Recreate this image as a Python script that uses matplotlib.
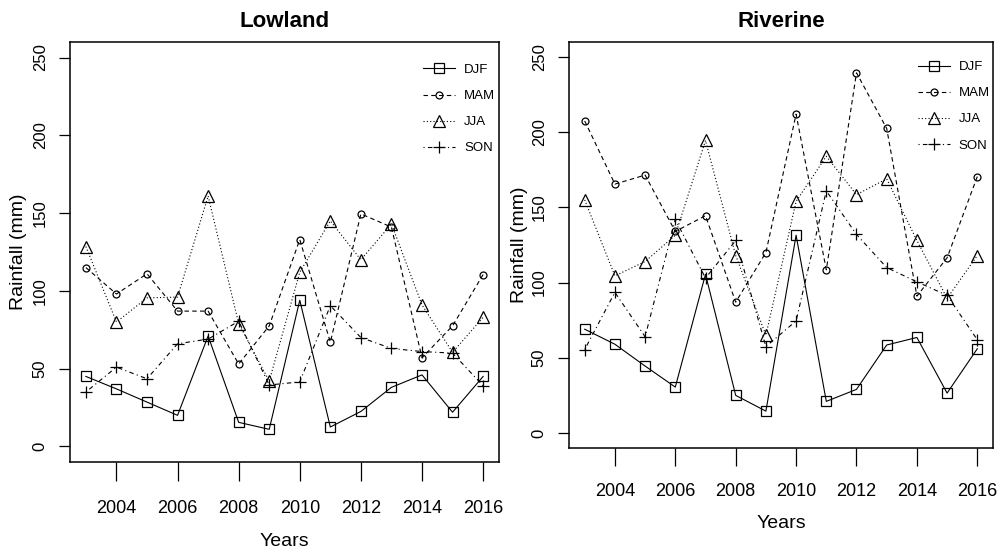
import matplotlib
matplotlib.use("Agg")
import matplotlib.pyplot as plt

years = list(range(2003, 2017))

# Lowland seasonal rainfall (mm)
low_djf = [45, 37, 28.5, 20, 71, 15.5, 11, 94, 12.5, 22.5, 38, 46, 22, 45]
low_mam = [115, 98, 111, 87, 87, 53, 77.5, 133, 67, 149.5, 141, 57, 77.5, 110.5]
low_jja = [128.5, 80, 95.5, 96, 161, 79, 42, 112, 145, 120, 143, 91, 60.5, 83]
low_son = [35, 51, 43.5, 66, 69, 80.5, 39.5, 41.5, 90.5, 70, 63, 61, 60, 39]

# Riverine seasonal rainfall (mm)
riv_djf = [69, 59, 44.5, 30.5, 105.5, 25, 14.5, 131.5, 21, 29, 58.5, 63.5, 26.5, 56]
riv_mam = [207.5, 165.5, 171.5, 134, 144.5, 87, 120, 212, 108.5, 239.5, 202.5, 91, 116.5, 170.5]
riv_jja = [155, 104.5, 114, 131.5, 194.5, 118, 65, 154, 184, 158.5, 169, 128, 89.5, 118]
riv_son = [55.5, 93.5, 64, 142, 103, 128, 57.5, 74.5, 161, 132, 110, 100.5, 91.5, 62]

seasons = ["DJF", "MAM", "JJA", "SON"]

plt.rcParams["font.family"] = "Liberation Sans"

# R-style lty 1..4 with pch 0..3
styles = [
    dict(ls="-", marker="s", ms=7, mfc="none"),
    dict(ls=(0, (4, 3)), marker="o", ms=5, mfc="none"),
    dict(ls=(0, (1, 2)), marker="^", ms=8, mfc="none"),
    dict(ls=(0, (1, 3, 4, 3)), marker="+", ms=9),
]

W, H = 999, 552
fig = plt.figure(figsize=(W / 100, H / 100), dpi=100)


def panel(box, series, title, xpad, xtick_len, xlab_y, ylab_x, leg_xy):
    l, t, r, b = box
    ax = fig.add_axes([l / W, 1 - b / H, (r - l) / W, (b - t) / H])
    for vals, name, st in zip(series, seasons, styles):
        ax.plot(years, vals, color="black", lw=0.8, mec="black", mew=0.9,
                label=name, **st)
    ax.set_xlim(2002.48, 2016.52)
    ax.set_ylim(-10, 260)
    ax.set_xticks(range(2004, 2017, 2))
    ax.set_yticks(range(0, 251, 50))
    ax.tick_params(axis="x", length=xtick_len, width=0.9, labelsize=13, pad=xpad)
    ax.tick_params(axis="y", length=8, width=0.9, labelsize=12, pad=8,
                   labelrotation=90)
    for lab in ax.get_yticklabels():
        lab.set_va("center")
    for s in ax.spines.values():
        s.set_linewidth(1.1)
    ax.set_title(title, fontsize=16, fontweight="bold", pad=11)
    ax.set_xlabel("Years", fontsize=14)
    ax.xaxis.set_label_coords(0.5, xlab_y)
    ax.xaxis.label.set_va("center")
    ax.set_ylabel("Rainfall (mm)", fontsize=14)
    ax.yaxis.set_label_coords(ylab_x, 0.5)
    ax.legend(loc="upper left", bbox_to_anchor=leg_xy, frameon=False,
              fontsize=9.5, handlelength=2.4, labelspacing=1.05,
              borderpad=0, borderaxespad=0, handletextpad=0.7)
    return ax


panel((70, 42, 499, 462), [low_djf, low_mam, low_jja, low_son], "Lowland",
      13.7, 14, -0.19, -0.100, (0.823, 0.948))
panel((569, 42, 993, 448), [riv_djf, riv_mam, riv_jja, riv_son], "Riverine",
      12.3, 13, -0.185, -0.097, (0.823, 0.953))

fig.savefig("out.png", dpi=100)
